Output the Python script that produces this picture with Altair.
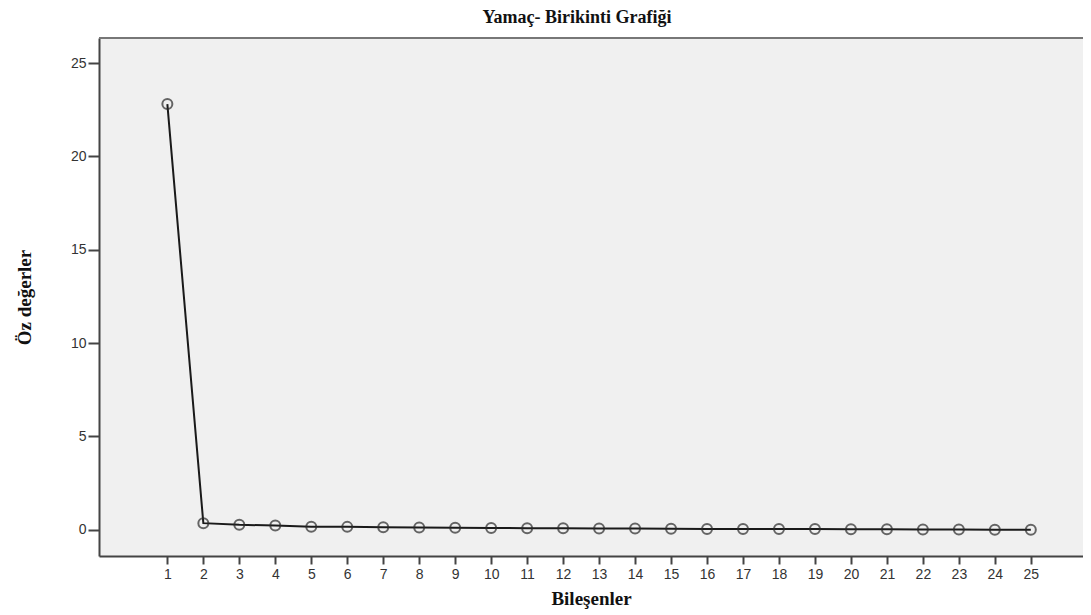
import altair as alt
import pandas as pd

components = list(range(1, 26))
eigenvalues = [22.8, 0.36, 0.27, 0.23, 0.17, 0.16, 0.14, 0.12, 0.11, 0.10,
               0.09, 0.08, 0.07, 0.07, 0.06, 0.05, 0.04, 0.04, 0.04, 0.03,
               0.03, 0.02, 0.02, 0.01, 0.01]
y_ticks = [0, 5, 10, 15, 20, 25]

df = pd.DataFrame({"Bileşenler": components, "Öz değerler": eigenvalues})

W, H = 984, 518

x = alt.X("Bileşenler:Q",
          scale=alt.Scale(domain=[-0.9, 26.45], nice=False, zero=False),
          axis=alt.Axis(values=components, title="Bileşenler", grid=False,
                        tickSize=8, labelPadding=3, titlePadding=8,
                        labelFlush=False, labelOverlap=False))
y = alt.Y("Öz değerler:Q",
          scale=alt.Scale(domain=[-1.4, 26.34], nice=False, zero=False),
          axis=alt.Axis(values=y_ticks, title="Öz değerler", grid=False,
                        tickSize=11, labelPadding=2, titlePadding=36))

line = alt.Chart(df).mark_line(color="#1a1a1a", strokeWidth=2).encode(x=x, y=y)
points = alt.Chart(df).mark_point(shape="circle", filled=False, size=100,
                                  color="#2a2a2a", strokeWidth=2).encode(x=x, y=y)
top_border = alt.Chart(df).mark_rule(color="#777777", strokeWidth=2).encode(
    x=alt.value(0), x2=alt.value(W), y=alt.value(0))

chart = alt.layer(top_border, line, points).properties(
    width=W, height=H,
    title=alt.Title("Yamaç- Birikinti Grafiği", font="Liberation Serif",
                    fontSize=18, fontWeight="bold", color="#111111",
                    anchor="middle", offset=10, dx=-14),
    autosize=alt.AutoSizeParams(type="none"),
    padding={"left": 91, "top": 30, "right": 0, "bottom": 55},
).configure_view(
    fill="#f0f0f0", stroke=None
).configure_axis(
    domainColor="#444444", domainWidth=2, tickColor="#444444", tickWidth=2,
    labelFont="Liberation Sans", labelFontSize=14, labelColor="#333333",
    titleFont="Liberation Serif", titleFontSize=19, titleFontWeight="bold",
    titleColor="#111111"
)

chart.save("out.html", embed_options={"renderer": "svg", "actions": False})
